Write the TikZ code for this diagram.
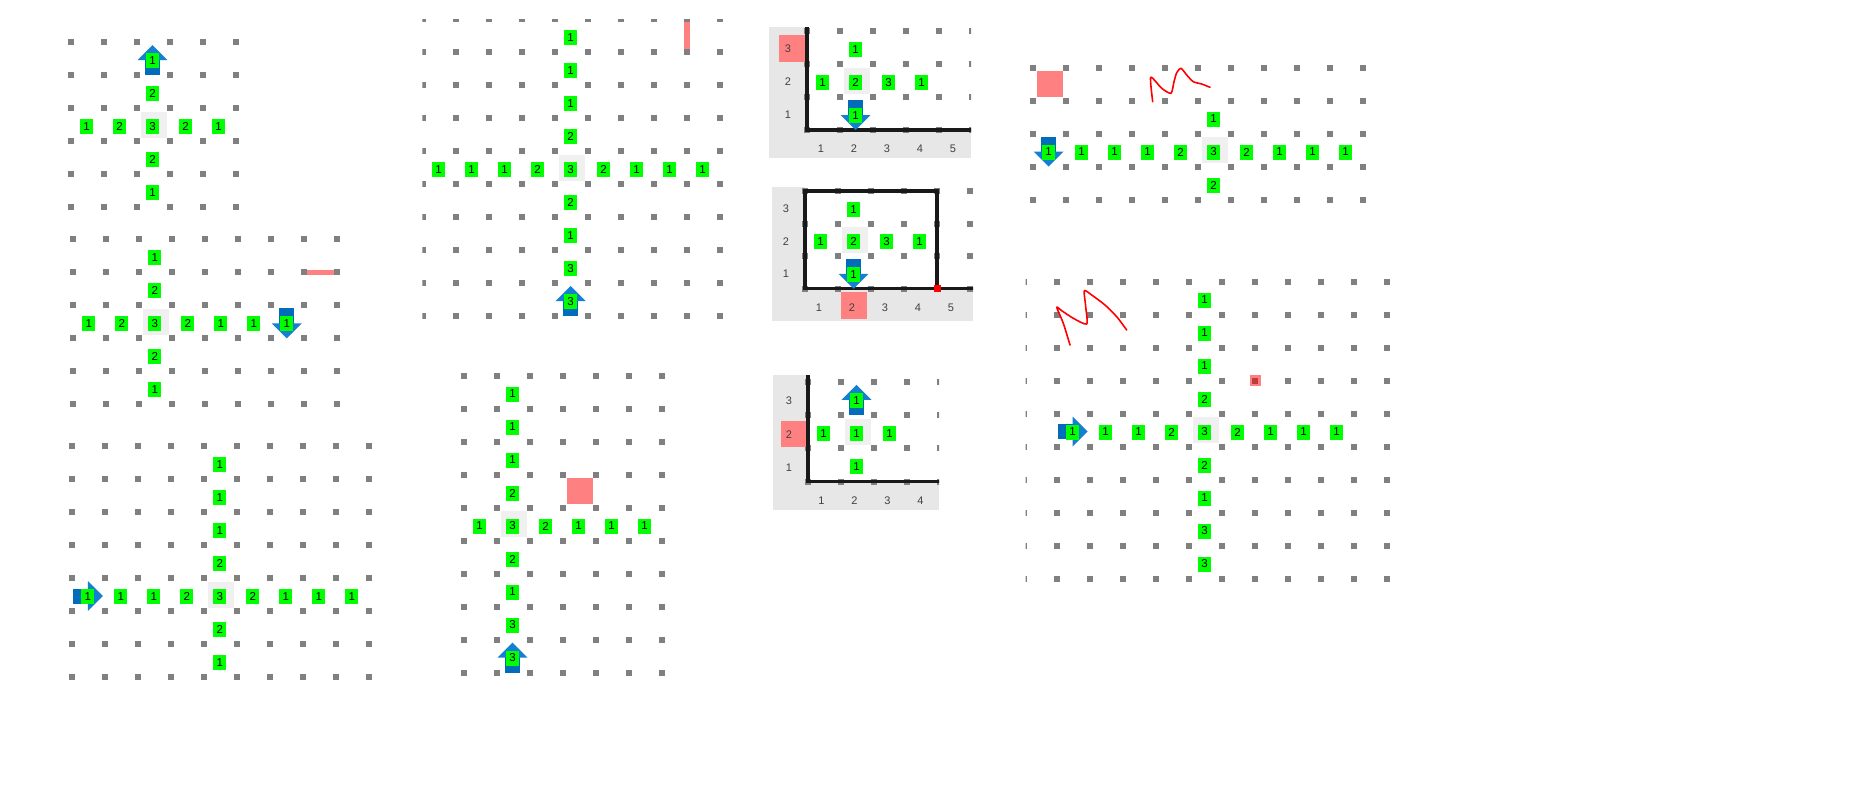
\documentclass[tikz,border=0pt]{standalone}
\usepackage{fontspec}
\newfontfamily\cellfont{Liberation Sans}
\definecolor{dotgray}{RGB}{128,128,128}
\definecolor{cellgray}{RGB}{240,240,240}
\definecolor{lbgreen}{RGB}{0,255,0}
\definecolor{hired}{RGB}{255,128,128}
\definecolor{darkred}{RGB}{190,60,60}
\definecolor{inkred}{RGB}{255,0,0}
\definecolor{arrowhead}{RGB}{20,128,210}
\definecolor{arrowtail}{RGB}{0,108,186}
\definecolor{axisbg}{RGB}{231,231,231}
\definecolor{axistext}{RGB}{64,64,64}
\usepackage{tikz}

% grid of dots, #1 x #2 (last index)
\newcommand{\dotgrid}[2]{\foreach \gi in {0,...,#1}{\foreach \gj in {0,...,#2}{%
  \fill[dotgray] (\gi,\gj) ++(-3pt,-3pt) rectangle ++(6pt,6pt);}}}
% filled cell
\newcommand{\cellbox}[3]{\fill[#1] (#2+.5,#3+.5) ++(-13pt,-13pt) rectangle ++(26pt,26pt);}
% blue block arrow in a cell, #3 = angle
\newcommand{\blockarrow}[3]{%
  \fill[arrowtail, shift={(#1+.5,#2+.5)}, xshift=-1pt, yshift=-1.5pt, rotate=#3]
    (-15pt,-7.5pt) rectangle (1pt,7.5pt);
  \fill[arrowhead, shift={(#1+.5,#2+.5)}, xshift=-1pt, yshift=-1.5pt, rotate=#3]
    (0pt,-15pt) -- (15pt,0pt) -- (0pt,15pt) -- cycle;}

\begin{document}
\begin{tikzpicture}[x=1pt, y=-1pt,
  lbl/.style={fill=lbgreen, text=black, inner sep=0pt, minimum width=13pt, minimum height=15pt,
    font=\cellfont\fontsize{11.5}{12}\selectfont, xshift=-1pt, yshift=-2pt},
  axlbl/.style={text=axistext, inner sep=0pt, font=\cellfont\fontsize{11}{12}\selectfont},
  axisline/.style={line width=3.5pt, black!90},
  scribble/.style={inkred, line width=1.6pt, line cap=round, line join=round},
]
\fill[white] (0,0) rectangle (1865,801);
\useasboundingbox (0,0) rectangle (1865,801);

% Top left: small cross
\begin{scope}[shift={(71,42)}, x=33pt, y=-33pt]
\dotgrid{5}{5}
\cellbox{cellgray}{2}{2}
\blockarrow{2}{0}{90}
\foreach \t [count=\i from 0] in {1,2,3,2,1}
  \node[lbl] (a-h\i) at (\i+.5,2.5) {\t};
\foreach \r/\t in {0/1,1/2,3/2,4/1}
  \node[lbl] (a-v\r) at (2.5,\r+.5) {\t};
\end{scope}

% Left middle
\begin{scope}[shift={(73.3,239.3)}, x=33pt, y=-33pt]
\dotgrid{8}{5}
\fill[hired] ([xshift=3pt,yshift=2.5pt]7,1) rectangle ([xshift=-3pt,yshift=-2.5pt]8,1);
\cellbox{cellgray}{2}{2}
\blockarrow{6}{2}{-90}
\foreach \t [count=\i from 0] in {1,2,3,2,1,1,1}
  \node[lbl] (b-h\i) at (\i+.5,2.5) {\t};
\foreach \r/\t in {0/1,1/2,3/2,4/1}
  \node[lbl] (b-v\r) at (2.5,\r+.5) {\t};
\end{scope}

% Left bottom
\begin{scope}[shift={(72.3,446)}, x=33pt, y=-33pt]
\dotgrid{9}{7}
\cellbox{cellgray}{4}{4}
\blockarrow{0}{4}{0}
\foreach \t [count=\i from 0] in {1,1,1,2,3,2,1,1,1}
  \node[lbl] (c-h\i) at (\i+.5,4.5) {\t};
\foreach \r/\t in {0/1,1/1,2/1,3/2,5/2,6/1}
  \node[lbl] (c-v\r) at (4.5,\r+.5) {\t};
\end{scope}

% Middle top
\begin{scope}[shift={(423,19)}, x=33pt, y=-33pt]
\clip (0,0) ++(-0.7pt,-0.7pt) rectangle (9.6,9.6);
\dotgrid{9}{9}
\fill[hired] ([xshift=-3pt,yshift=-3pt]8,0) rectangle ([xshift=3pt,yshift=3pt]8,1);
\cellbox{cellgray}{4}{4}
\blockarrow{4}{8}{90}
\foreach \t [count=\i from 0] in {1,1,1,2,3,2,1,1,1}
  \node[lbl] (d-h\i) at (\i+.5,4.5) {\t};
\foreach \r/\t in {0/1,1/1,2/1,3/2,5/2,6/1,7/3,8/3}
  \node[lbl] (d-v\r) at (4.5,\r+.5) {\t};
\end{scope}

% Middle bottom
\begin{scope}[shift={(464,375.5)}, x=33pt, y=-33pt]
\dotgrid{6}{9}
\cellbox{cellgray}{1}{4}
\cellbox{hired}{3}{3}
\blockarrow{1}{8}{90}
\foreach \t [count=\i from 0] in {1,3,2,1,1,1}
  \node[lbl] (e-h\i) at (\i+.5,4.5) {\t};
\foreach \r/\t in {0/1,1/1,2/1,3/2,5/2,6/1,7/3,8/3}
  \node[lbl] (e-v\r) at (1.5,\r+.5) {\t};
\end{scope}

% Axis panel 1
\begin{scope}
\clip (769,27) rectangle (971,158);
\fill[axisbg] (769,27) rectangle (971,158);
\fill[white] (807,27) rectangle (971,130);
\begin{scope}[shift={(807,31)}, x=33pt, y=-33pt]
\dotgrid{5}{3}
\fill[hired] (-0.85,0.12) rectangle (-0.06,0.93);
\cellbox{cellgray}{1}{1}
\draw[axisline] (0,-0.3) -- (0,3) -- (5.2,3);
\blockarrow{1}{2}{-90}
\foreach \t [count=\r from 0] in {3,2,1}
  \node[axlbl] (f-r\t) at (-0.58,\r+.55) {\t};
\foreach \c in {1,...,5}
  \node[axlbl] (f-c\c) at (\c-.58,3.57) {\c};
\node[lbl] (f-top) at (1.5,0.5) {1};
\foreach \t [count=\i from 0] in {1,2,3,1}
  \node[lbl] (f-h\i) at (\i+.5,1.5) {\t};
\node[lbl] (f-bot) at (1.5,2.5) {1};
\end{scope}
\end{scope}

% Axis panel 2
\begin{scope}
\clip (772,187) rectangle (973,321);
\fill[axisbg] (772,187) rectangle (973,321);
\fill[white] (805,187) rectangle (973,288.5);
\begin{scope}[shift={(805,191)}, x=33pt, y=-32.5pt]
\dotgrid{5}{3}
\fill[hired] (1.09,3.1) rectangle (1.87,3.94);
\cellbox{cellgray}{1}{1}
\draw[axisline] (0,0) rectangle (4,3);
\draw[axisline] (4,3) -- (5.2,3);
\fill[inkred] (4,3) ++(-3.5pt,-3.5pt) rectangle ++(7pt,7pt);
\blockarrow{1}{2}{-90}
\foreach \t [count=\r from 0] in {3,2,1}
  \node[axlbl] (g-r\t) at (-0.58,\r+.55) {\t};
\foreach \c in {1,...,5}
  \node[axlbl] (g-c\c) at (\c-.58,3.59) {\c};
\node[lbl] (g-top) at (1.5,0.5) {1};
\foreach \t [count=\i from 0] in {1,2,3,1}
  \node[lbl] (g-h\i) at (\i+.5,1.5) {\t};
\node[lbl] (g-bot) at (1.5,2.5) {1};
\end{scope}
\end{scope}

% Axis panel 3
\begin{scope}
\clip (773,375) rectangle (939,510);
\fill[axisbg] (773,375) rectangle (939,510);
\fill[white] (808,375) rectangle (939,481.7);
\begin{scope}[shift={(808,381.7)}, x=33pt, y=-33.3pt]
\dotgrid{4}{3}
\fill[hired] (-0.83,1.19) rectangle (-0.06,1.97);
\cellbox{cellgray}{1}{1}
\draw[axisline] (0,-0.3) -- (0,3) -- (4.3,3);
\blockarrow{1}{0}{90}
\foreach \t [count=\r from 0] in {3,2,1}
  \node[axlbl] (h-r\t) at (-0.58,\r+.58) {\t};
\foreach \c in {1,...,4}
  \node[axlbl] (h-c\c) at (\c-.59,3.57) {\c};
\node[lbl] (h-top) at (1.5,0.5) {1};
\foreach \t [count=\i from 0] in {1,1,1}
  \node[lbl] (h-h\i) at (\i+.5,1.5) {\t};
\node[lbl] (h-bot) at (1.5,2.5) {1};
\end{scope}
\end{scope}

% Right top
\begin{scope}[shift={(1033,67.5)}, x=33pt, y=-33pt]
\dotgrid{10}{4}
\cellbox{hired}{0}{0}
\cellbox{cellgray}{5}{2}
\blockarrow{0}{2}{-90}
\foreach \t [count=\i from 0] in {1,1,1,1,2,3,2,1,1,1}
  \node[lbl] (i-h\i) at (\i+.5,2.5) {\t};
\foreach \r/\t in {1/1,3/2}
  \node[lbl] (i-v\r) at (5.5,\r+.5) {\t};
\end{scope}
\draw[scribble] plot[smooth, tension=0.4] coordinates {(1152.7,101.7) (1150.7,77.3) (1161.7,88.3)
  (1171,93.3) (1174,81.7) (1176.7,72.7) (1181,68.3) (1186.7,75) (1193.3,81.7) (1201.7,84) (1210,87.3)};

% Right bottom
\begin{scope}
\clip (1025.7,270) rectangle (1400,590);
\begin{scope}[shift={(1024,281.5)}, x=33pt, y=-33pt]
\dotgrid{11}{9}
\fill[hired] (7,3) ++(-5.5pt,-5.5pt) rectangle ++(11pt,11pt);
\fill[darkred] (7,3) ++(-3pt,-3pt) rectangle ++(6pt,6pt);
\cellbox{cellgray}{5}{4}
\blockarrow{1}{4}{0}
\foreach \t [count=\i from 1] in {1,1,1,2,3,2,1,1,1}
  \node[lbl] (j-h\i) at (\i+.5,4.5) {\t};
\foreach \r/\t in {0/1,1/1,2/1,3/2,5/2,6/1,7/3,8/3}
  \node[lbl] (j-v\r) at (5.5,\r+.5) {\t};
\end{scope}
\end{scope}
\draw[scribble] plot[smooth, tension=0.4] coordinates {(1070,345) (1063.3,323.3) (1056.7,307.3)
  (1061.7,310.7) (1073.3,318.3) (1086.7,324) (1085.7,306.7) (1084.3,290.7) (1091.7,295)
  (1105,305) (1116.7,316.7) (1126.7,330)};
\end{tikzpicture}
\end{document}
